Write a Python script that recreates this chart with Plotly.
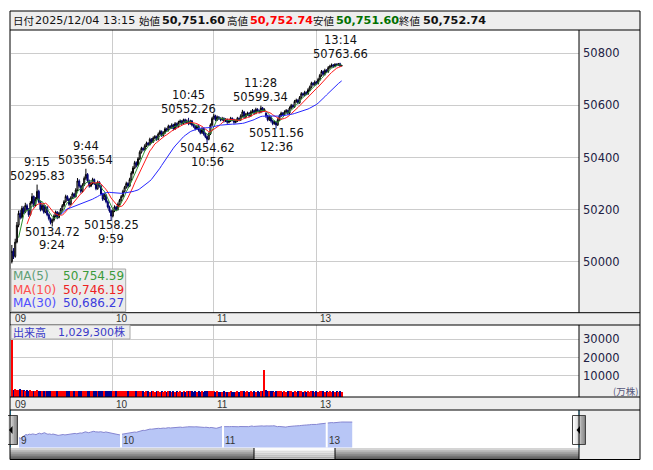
import plotly.graph_objects as go
import pandas as pd

# ------------------------------------------------------------------ data
session_date = "2025/12/04"
last_time = "13:15"
tick_idx = [0, 60, 120, 181]           # bar index of 09:00, 10:00, 11:00, 13:00
tick_text = ["09", "10", "11", "13"]
nav_text = ["9", "10", "11", "13"]
price_ticks = [50000, 50200, 50400, 50600, 50800]
vol_ticks = [10000, 20000, 30000]

opens = [
    50000, 50040, 50020, 50075, 50140, 50185, 50170, 50205, 50190, 50215,
    50200, 50180, 50225, 50250, 50215, 50240, 50270, 50230, 50200, 50215,
    50190, 50210, 50180, 50165, 50150, 50160, 50175, 50190, 50170, 50185,
    50200, 50215, 50230, 50250, 50240, 50220, 50245, 50260, 50250, 50275,
    50310, 50290, 50270, 50295, 50320, 50335, 50310, 50290, 50300, 50315,
    50300, 50280, 50305, 50290, 50260, 50240, 50255, 50230, 50210, 50195,
    50175, 50195, 50210, 50200, 50220, 50235, 50250, 50270, 50285, 50300,
    50290, 50315, 50340, 50360, 50380, 50370, 50395, 50420, 50435, 50430,
    50445, 50455, 50450, 50470, 50460, 50475, 50480, 50470, 50490, 50500,
    50485, 50495, 50510, 50505, 50520, 50515, 50525, 50510, 50530, 50520,
    50535, 50540, 50530, 50545, 50535, 50540, 50530, 50540, 50525, 50520,
    50510, 50520, 50505, 50495, 50510, 50490, 50480, 50470, 50490, 50525,
    50550, 50560, 50545, 50555, 50550, 50545, 50550, 50540, 50545, 50535,
    50540, 50550, 50545, 50535, 50540, 50550, 50545, 50560, 50575, 50555,
    50565, 50570, 50560, 50575, 50580, 50570, 50585, 50580, 50575, 50590,
    50580, 50570, 50560, 50545, 50555, 50540, 50530, 50535, 50525, 50545,
    50560, 50570, 50565, 50575, 50580, 50570, 50590, 50600, 50595, 50615,
    50620, 50610, 50630, 50645, 50640, 50650, 50645, 50660, 50670, 50685,
    50680, 50690, 50685, 50700, 50715, 50730, 50720, 50735, 50730, 50745,
    50750, 50755, 50750, 50758, 50755, 50760, 50751.60,
]
highs = [
    50064, 50052, 50088, 50152, 50196, 50198, 50214, 50212, 50226, 50222,
    50206, 50232, 50263, 50254, 50248, 50295.83, 50276, 50235, 50222, 50219,
    50216, 50213, 50186, 50170, 50166, 50181, 50196, 50194, 50191, 50206,
    50221, 50236, 50257, 50255, 50244, 50251, 50266, 50264, 50282, 50321,
    50316, 50295, 50301, 50327, 50356.54, 50340, 50315, 50307, 50322, 50319,
    50304, 50311, 50309, 50294, 50264, 50262, 50259, 50235, 50215, 50199,
    50201, 50216, 50214, 50227, 50241, 50256, 50276, 50291, 50307, 50305,
    50322, 50347, 50367, 50387, 50385, 50401, 50427, 50441, 50439, 50451,
    50461, 50459, 50476, 50474, 50481, 50486, 50484, 50496, 50506, 50504,
    50501, 50516, 50514, 50526, 50524, 50531, 50529, 50536, 50534, 50541,
    50546, 50544, 50549, 50549, 50546, 50552.26, 50545, 50544, 50529, 50524,
    50526, 50524, 50509, 50516, 50514, 50494, 50484, 50496, 50531, 50556,
    50568, 50564, 50561, 50559, 50554, 50556, 50554, 50551, 50549, 50546,
    50556, 50554, 50549, 50546, 50556, 50554, 50566, 50583, 50579, 50571,
    50576, 50574, 50581, 50586, 50584, 50591, 50589, 50584, 50599.34, 50594,
    50589, 50574, 50564, 50561, 50559, 50544, 50541, 50539, 50551, 50566,
    50576, 50574, 50581, 50586, 50584, 50596, 50606, 50604, 50621, 50626,
    50624, 50636, 50651, 50649, 50656, 50654, 50666, 50676, 50691, 50689,
    50696, 50694, 50706, 50721, 50736, 50734, 50741, 50739, 50751, 50756,
    50761, 50759, 50762, 50761, 50763, 50763.66, 50752.74,
]
lows = [
    49993, 50010, 50015, 50070, 50132, 50162, 50165, 50182, 50186, 50194,
    50172, 50176, 50220, 50208, 50210, 50236, 50224, 50193, 50195, 50184,
    50186, 50174, 50158, 50143, 50134.72, 50154, 50170, 50163, 50166, 50180,
    50195, 50210, 50226, 50233, 50214, 50216, 50240, 50244, 50246, 50270,
    50284, 50262, 50265, 50290, 50314, 50304, 50284, 50286, 50295, 50294,
    50274, 50276, 50284, 50254, 50233, 50236, 50224, 50204, 50188, 50158.25,
    50170, 50190, 50194, 50196, 50215, 50230, 50246, 50265, 50280, 50284,
    50286, 50310, 50335, 50355, 50362, 50366, 50390, 50415, 50424, 50426,
    50440, 50444, 50446, 50454, 50456, 50470, 50464, 50466, 50485, 50479,
    50480, 50490, 50499, 50500, 50509, 50510, 50504, 50506, 50514, 50515,
    50530, 50524, 50526, 50530, 50531, 50524, 50526, 50519, 50514, 50504,
    50506, 50499, 50489, 50490, 50484, 50474, 50454.62, 50466, 50486, 50520,
    50545, 50539, 50540, 50544, 50539, 50541, 50534, 50536, 50529, 50531,
    50536, 50539, 50529, 50531, 50536, 50539, 50540, 50556, 50549, 50550,
    50560, 50554, 50556, 50570, 50564, 50566, 50574, 50569, 50570, 50574,
    50576, 50552, 50539, 50540, 50534, 50524, 50526, 50511.56, 50521, 50540,
    50555, 50559, 50560, 50570, 50564, 50566, 50585, 50589, 50590, 50610,
    50604, 50606, 50625, 50634, 50635, 50639, 50640, 50655, 50665, 50674,
    50675, 50679, 50680, 50695, 50710, 50714, 50715, 50724, 50725, 50740,
    50745, 50744, 50746, 50750, 50752, 50748, 50751.60,
]
closes = [
    50040, 50020, 50075, 50140, 50185, 50170, 50205, 50190, 50215, 50200,
    50180, 50225, 50250, 50215, 50240, 50270, 50230, 50200, 50215, 50190,
    50210, 50180, 50165, 50150, 50160, 50175, 50190, 50170, 50185, 50200,
    50215, 50230, 50250, 50240, 50220, 50245, 50260, 50250, 50275, 50310,
    50290, 50270, 50295, 50320, 50335, 50310, 50290, 50300, 50315, 50300,
    50280, 50305, 50290, 50260, 50240, 50255, 50230, 50210, 50195, 50175,
    50195, 50210, 50200, 50220, 50235, 50250, 50270, 50285, 50300, 50290,
    50315, 50340, 50360, 50380, 50370, 50395, 50420, 50435, 50430, 50445,
    50455, 50450, 50470, 50460, 50475, 50480, 50470, 50490, 50500, 50485,
    50495, 50510, 50505, 50520, 50515, 50525, 50510, 50530, 50520, 50535,
    50540, 50530, 50545, 50535, 50540, 50530, 50540, 50525, 50520, 50510,
    50520, 50505, 50495, 50510, 50490, 50480, 50470, 50490, 50525, 50550,
    50560, 50545, 50555, 50550, 50545, 50550, 50540, 50545, 50535, 50540,
    50550, 50545, 50535, 50540, 50550, 50545, 50560, 50575, 50555, 50565,
    50570, 50560, 50575, 50580, 50570, 50585, 50580, 50575, 50590, 50580,
    50585, 50560, 50545, 50555, 50540, 50530, 50535, 50525, 50545, 50560,
    50570, 50565, 50575, 50580, 50570, 50590, 50600, 50595, 50615, 50620,
    50610, 50630, 50645, 50640, 50650, 50645, 50660, 50670, 50685, 50680,
    50690, 50685, 50700, 50715, 50730, 50720, 50735, 50730, 50745, 50750,
    50755, 50750, 50758, 50755, 50760, 50751.60, 50752.74,
]
volume = [
    29600,
    2300, 2600, 2400, 2100, 2500, 1900, 2200, 1800, 2000, 1700,
    1900, 1800, 1600, 1700, 1900, 1600, 1700, 1500, 1600, 1700,
    1600, 1500, 1700, 1600, 1800, 1500, 1600, 1700, 1500, 1600,
    1700, 1600, 1500, 1600, 1400, 1700, 1600, 1500, 1600, 1800,
    1500, 1600, 1500, 1700, 1600, 1500, 1400, 1600, 1500, 1400,
    1500, 1600, 1400, 1500, 1600, 1500, 1400, 1500, 1600, 1700,
    1500, 1400, 1500, 1600, 1400, 1500, 1400, 1500, 1600, 1400,
    1500, 1600, 1500, 1400, 1500, 1600, 1500, 1400, 1300, 1500,
    1400, 1300, 1500, 1400, 1300, 1400, 1500, 1300, 1400, 1300,
    1400, 1300, 1400, 1500, 1300, 1400, 1300, 1400, 1300, 1400,
    1300, 1400, 1300, 1400, 1500, 1600, 1400, 1300, 1400, 1300,
    1400, 1300, 1400, 1300, 1400, 1500, 1600, 1400, 1500, 1400,
    1300, 1400, 1300, 1200, 1300, 1400, 1300, 1200, 1300, 1400,
    1300, 1200, 1300, 1400, 1300, 1400, 1500, 1400, 1300, 1400,
    1300, 1400, 1300, 1400, 1300, 1400, 1300, 1400, 1500, 13100,
    1900, 1500, 1400, 1500, 1400, 1300, 1400, 1600, 1500, 1400,
    1300, 1400, 1300, 1400, 1500, 1400, 1300, 1400, 1300, 1400,
    1500, 1400, 1300, 1400, 1300, 1400, 1300, 1500, 1400, 1300,
    1400, 1300, 1400, 1500, 1400, 1300, 1400, 1300, 1400, 1300,
    1400, 1300, 1400, 1300, 1400, 1300,
]

hl_index = [15, 24, 44, 59, 105, 116, 148, 157, 195]
hl_time = ["9:15", "9:24", "9:44", "9:59", "10:45", "10:56", "11:28", "12:36", "13:14"]
hl_kind = ["H", "L", "H", "L", "H", "L", "H", "L", "H"]

ma_periods = [5, 10, 30]
ma_last_text = ["50,754.59", "50,746.19", "50,686.27"]
total_volume_text = "1,029,300"

n = len(closes)
assert len(opens) == n and len(highs) == n and len(lows) == n and len(volume) == n, \
    (len(opens), len(highs), len(lows), len(closes), len(volume))
idx = list(range(n))

# ------------------------------------------------------------------ geometry (screen px)
W, H, OFF = 637, 454, 8
def px(x): return (x - OFF) / W
def py(y): return 1 - (y - OFF) / H

XL, XR, XE = 11, 579, 640
TOP, HEAD_B = 11, 30
MAIN_B = 312.7
VOL_T, VOL_B = 325, 397
NAV_T, NAV_B = 410, 447.5
BOT = 459.5

P_MIN, P_MAX = 49803.8, 50889.6
V_MIN, V_MAX = -1700, 37860

MA_COL = ["#2f8f2f", "#ff1a1a", "#2626ff"]
MA_LBL = ["#5f9f77", "#ff5050", "#5050ff"]
MA_VAL = ["#3a9a3a", "#ee2222", "#3c3cdd"]

fig = go.Figure()

fig.add_trace(go.Candlestick(
    x=idx, open=opens, high=highs, low=lows, close=closes,
    increasing=dict(line=dict(color="#000000", width=1), fillcolor="#ffffff"),
    decreasing=dict(line=dict(color="#00006a", width=1), fillcolor="#0000b0"),
    whiskerwidth=0, hoverinfo="skip", showlegend=False, xaxis="x", yaxis="y"))

cs = pd.Series(closes)
for p, col in zip(ma_periods, MA_COL):
    fig.add_trace(go.Scatter(x=idx, y=cs.rolling(p).mean(), mode="lines",
                             line=dict(color=col, width=1), hoverinfo="skip",
                             showlegend=False, xaxis="x", yaxis="y"))

vcol = ["#ff0000" if c >= o else "#000090" for o, c in zip(opens, closes)]
fig.add_trace(go.Bar(x=idx, y=[v - V_MIN for v in volume], base=V_MIN, width=0.6,
                     marker=dict(color=vcol, line=dict(width=0)), hoverinfo="skip",
                     showlegend=False, xaxis="x2", yaxis="y2"))

fig.add_trace(go.Scatter(x=idx, y=closes, mode="lines", fill="tozeroy",
                         line=dict(color="#8585d0", width=1), fillcolor="#b8c6f6",
                         hoverinfo="skip", showlegend=False, xaxis="x3", yaxis="y3"))

# ------------------------------------------------------------------ shapes
shapes = []
def rect(x0, y0, x1, y1, fill=None, line=None, lw=1, layer="above"):
    shapes.append(dict(type="rect", xref="paper", yref="paper",
                       x0=px(x0), x1=px(x1), y0=py(y0), y1=py(y1),
                       fillcolor=fill or "rgba(0,0,0,0)",
                       line=dict(color=line or "rgba(0,0,0,0)", width=lw if line else 0),
                       layer=layer))
def hline(y, x0, x1, color="#000000", w=1):
    shapes.append(dict(type="line", xref="paper", yref="paper", x0=px(x0), x1=px(x1),
                       y0=py(y), y1=py(y), line=dict(color=color, width=w)))
def vline(x, y0, y1, color="#000000", w=1):
    shapes.append(dict(type="line", xref="paper", yref="paper", x0=px(x), x1=px(x),
                       y0=py(y0), y1=py(y1), line=dict(color=color, width=w)))

GRAY = "#eeeeee"
rect(10, TOP, XE, HEAD_B, GRAY, layer="below")
rect(XR, HEAD_B, XE, MAIN_B, GRAY, layer="below")
rect(10, MAIN_B, XE, VOL_T, GRAY, layer="below")
rect(XR, VOL_T, XE, VOL_B, GRAY, layer="below")
rect(10, VOL_B, XE, NAV_T, GRAY, layer="below")
rect(XR, NAV_T, XE, BOT, GRAY, layer="below")

# scrollbar
sb = ["#d4d4d4", "#bcbcbc", "#a4a4a4", "#8c8c8c", "#747474", "#606060"]
th = ["#fbfbfb", "#f0f0f0", "#e4e4e4", "#d8d8d8", "#cccccc", "#c0c0c0"]
SB_T = 448
step = (BOT - SB_T) / len(sb)
for k in range(len(sb)):
    rect(10, SB_T + k * step, XR, SB_T + (k + 1) * step + 0.3, sb[k])
    rect(254, SB_T + k * step, 335, SB_T + (k + 1) * step + 0.3, th[k])
vline(254, SB_T, BOT)
vline(335, SB_T, BOT)

# navigator session gaps
for t in tick_idx[1:]:
    shapes.append(dict(type="line", xref="x3", yref="paper", x0=t, x1=t,
                       y0=py(NAV_B), y1=py(NAV_T), line=dict(color="#ffffff", width=2)))
vline(10.5, NAV_T, NAV_B, "#38b8ec")
vline(XR, NAV_T, NAV_B, "#38b8ec")

# handles
hb = ["#fdfdfd", "#ececec", "#d6d6d6", "#bdbdbd", "#a0a0a0", "#858585"]
for (hx0, hx1) in [(5.5, 17.5), (572.5, 585.5)]:
    hw = (hx1 - hx0) / len(hb)
    for k in range(len(hb)):
        rect(hx0 + k * hw, 415.5, hx0 + (k + 1) * hw + 0.3, 444.5, hb[k])
    rect(hx0, 415.5, hx1, 444.5, None, "#444444")
    cx = (hx0 + hx1) / 2 - 0.5
    shapes.append(dict(type="path", xref="paper", yref="paper",
                       path="M {},{} L {},{} L {},{} Z".format(
                           px(cx - 2), py(430), px(cx + 1.5), py(426),
                           px(cx + 1.5), py(434)),
                       fillcolor="#000000", line=dict(width=0)))

# borders
hline(HEAD_B, 10, XE)
hline(MAIN_B, 10, XE)
hline(VOL_T, 10, XE)
hline(VOL_B, 10, XE)
hline(NAV_T, 10, XE)
vline(XR, HEAD_B, MAIN_B)
vline(XR, VOL_T, VOL_B)
vline(XR, NAV_T, BOT)
rect(10, TOP, XE, BOT, None, "#000000")

# legend boxes
rect(11, 269, 125.7, 311.7, "rgba(232,232,232,0.88)", "#a8a8a8")
rect(11, VOL_T, 130, 339, "#eeeeee", "#a8a8a8")

# ------------------------------------------------------------------ annotations
ann = []
NUM = "DejaVu Sans"
JP = "Noto Sans CJK JP"
def txt(x, y, s, size=12, color="#111111", fam=NUM, xa="left", ya="middle", xref="paper",
        yref="paper", xshift=0, yshift=0):
    ann.append(dict(x=px(x) if xref == "paper" else x, y=py(y) if yref == "paper" else y,
                    xref=xref, yref=yref, text=s, showarrow=False, xanchor=xa, yanchor=ya,
                    xshift=xshift, yshift=yshift, font=dict(size=size, color=color, family=fam),
                    borderpad=0))

hy = 20.5
txt(11.5, hy, "日付", 10.5, "#111111", JP)
txt(34, hy, f"{session_date} {last_time}", 11.2, "#111111")
txt(138, hy, "始値", 10.5, "#111111", JP)
txt(161, hy, f"<b>{opens[-1]:,.2f}</b>", 11.2, "#111111")
txt(226, hy, "高値", 10.5, "#111111", JP)
txt(248.5, hy, f"<b>{highs[-1]:,.2f}</b>", 11.2, "#ff0000")
txt(312, hy, "安値", 10.5, "#111111", JP)
txt(334.5, hy, f"<b>{lows[-1]:,.2f}</b>", 11.2, "#007000")
txt(398, hy, "終値", 10.5, "#111111", JP)
txt(421.5, hy, f"<b>{closes[-1]:,.2f}</b>", 11.2, "#111111")

# high / low markers
HL_F = 11.5
HL_P = 13.5
for i, tm, kd in zip(hl_index, hl_time, hl_kind):
    if kd == "H":
        v = highs[i]
        txt(i, v, f"{v:.2f}", HL_F, "#111111", xa="center", ya="bottom", xref="x", yref="y", yshift=1)
        txt(i, v, tm, HL_F, "#111111", xa="center", ya="bottom", xref="x", yref="y", yshift=1 + HL_P)
    else:
        v = lows[i]
        txt(i, v, f"{v:.2f}", HL_F, "#111111", xa="center", ya="top", xref="x", yref="y", yshift=3)
        txt(i, v, tm, HL_F, "#111111", xa="center", ya="top", xref="x", yref="y", yshift=3 - HL_P)

# MA legend
for k, (p, s) in enumerate(zip(ma_periods, ma_last_text)):
    yy = 275.7 + k * 13.8
    txt(12, yy, f"MA({p})", 12, MA_LBL[k])
    txt(125.5, yy, s, 12, MA_VAL[k], xa="right")

# volume label
txt(12, 332.2, "出来高", 11, "#3a3ac8", JP)
txt(57, 332.2, f"{total_volume_text}株", 11, "#3a3ac8", f"{NUM}, {JP}")
txt(638.5, 390.5, "(万株)", 9.5, "#55557a", JP, xa="right")

# strip labels
for t, s in zip(tick_idx, tick_text):
    txt(t, 318.8, s, 10, "#333333", "Liberation Sans", xref="x", xshift=2.5)
    txt(t, 404, s, 10, "#333333", "Liberation Sans", xref="x", xshift=2.5)
for t, s in zip(tick_idx, nav_text):
    txt(t, 440.5, s, 10, "#333333", "Liberation Sans", xref="x3", xshift=1)

# ------------------------------------------------------------------ layout
xr = [-0.5, 337]
common_x = dict(range=xr, tickvals=tick_idx, showticklabels=False, showgrid=True,
                gridcolor="#cccccc", gridwidth=1, zeroline=False, showline=False,
                ticks="", fixedrange=True)
fig.update_layout(
    width=W, height=H, margin=dict(l=0, r=0, t=0, b=0, pad=0),
    paper_bgcolor="#ffffff", plot_bgcolor="#ffffff", showlegend=False,
    font=dict(family=NUM, size=11, color="#222222"), bargap=0, boxgap=0.1,
    xaxis=dict(domain=[px(XL), px(XR)], anchor="y", rangeslider=dict(visible=False), **common_x),
    yaxis=dict(domain=[py(MAIN_B), py(HEAD_B)], anchor="x", range=[P_MIN, P_MAX],
               tickvals=price_ticks, ticktext=[str(v) for v in price_ticks], side="right",
               showgrid=True, gridcolor="#cccccc", zeroline=False, showline=False, ticks="",
               tickfont=dict(size=11.5, color="#222244", family=NUM), ticklabelstandoff=3,
               fixedrange=True),
    xaxis2=dict(domain=[px(XL), px(XR)], anchor="y2", **common_x),
    yaxis2=dict(domain=[py(VOL_B), py(VOL_T)], anchor="x2", range=[V_MIN, V_MAX],
                tickvals=vol_ticks, ticktext=[str(v) for v in vol_ticks], side="right",
                showgrid=True, gridcolor="#cccccc", zeroline=False, showline=False, ticks="",
                tickfont=dict(size=11.5, color="#222244", family=NUM), ticklabelstandoff=3,
                fixedrange=True),
    xaxis3=dict(domain=[px(10), px(XR)], anchor="y3", range=[-5.3, 329.4], visible=False,
                fixedrange=True),
    yaxis3=dict(domain=[py(NAV_B), py(NAV_T)], anchor="x3", range=[49600, 51300], visible=False,
                fixedrange=True),
    shapes=shapes, annotations=ann,
)

fig.write_html("out.html", config={"displayModeBar": False})
